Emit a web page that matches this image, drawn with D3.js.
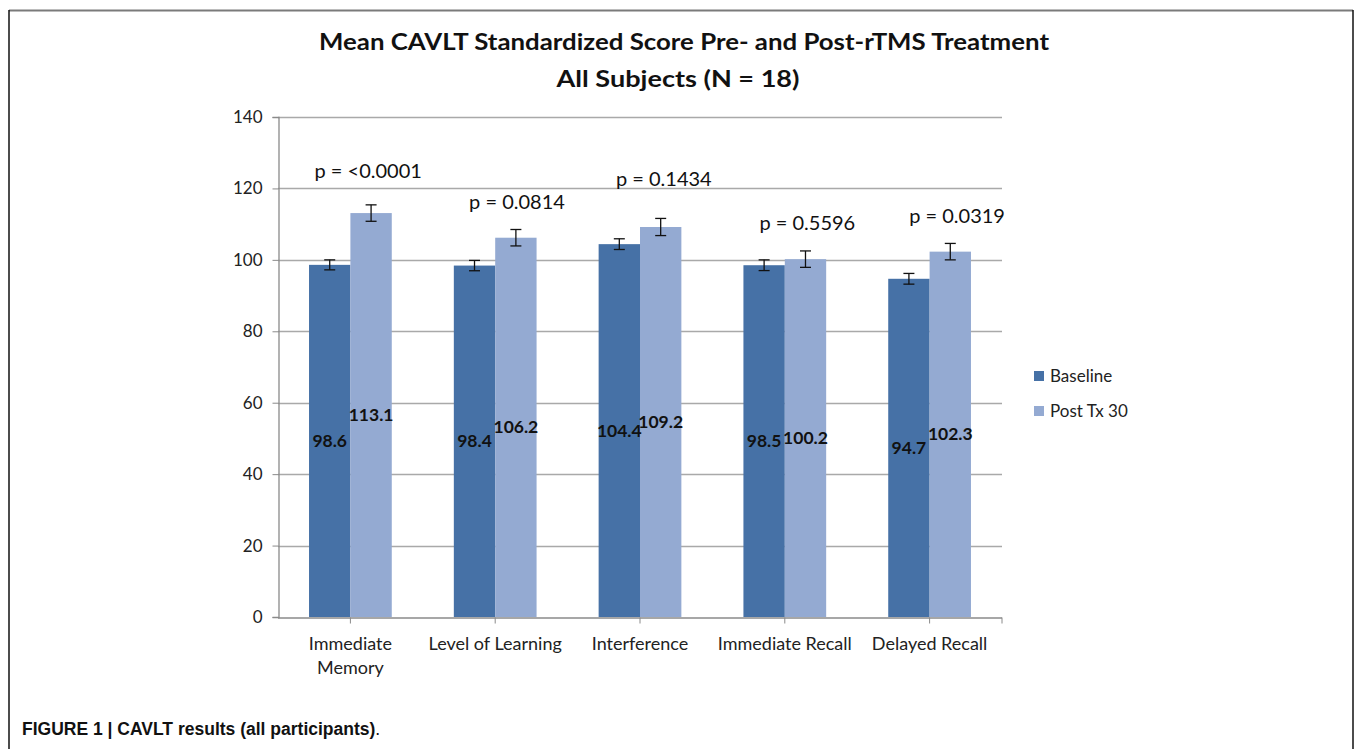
<!DOCTYPE html>
<html>
<head>
<meta charset="utf-8">
<script src="https://cdn.jsdelivr.net/npm/d3@7"></script>
<style>
  html, body { margin: 0; padding: 0; background: #fff; }
  svg { display: block; }
</style>
</head>
<body>
<svg id="chart" width="1355" height="749"></svg>
<script>
// ---- data ----
const categories = ["Immediate Memory", "Level of Learning", "Interference", "Immediate Recall", "Delayed Recall"];
const categoryLabels = [["Immediate", "Memory"], ["Level of Learning"], ["Interference"], ["Immediate Recall"], ["Delayed Recall"]];
const seriesNames = ["Baseline", "Post Tx 30"];
const baseline = [98.6, 98.4, 104.4, 98.5, 94.7];
const postTx30 = [113.1, 106.2, 109.2, 100.2, 102.3];
const baselineErr = [1.4, 1.45, 1.5, 1.5, 1.5];
const postTx30Err = [2.3, 2.3, 2.4, 2.3, 2.3];
const pValueLabels = ["p = <0.0001", "p = 0.0814", "p = 0.1434", "p = 0.5596", "p = 0.0319"];
const pValueLevel = [123.0, 114.2, 120.8, 108.3, 110.4];
const yTicks = [0, 20, 40, 60, 80, 100, 120, 140];
const titleLines = ["Mean CAVLT Standardized Score Pre- and Post-rTMS Treatment", "All Subjects (N = 18)"];
const captionBold = "FIGURE 1 | CAVLT results (all participants)";
const captionTail = ".";

// ---- styles ----
const colors = ["#4671a6", "#94aad2"];
const font = "Lato, 'Open Sans', sans-serif";

const svg = d3.select("#chart");

// frame
svg.append("line").attr("x1", 9).attr("x2", 1353).attr("y1", 10.5).attr("y2", 10.5)
  .attr("stroke", "#7a7a7a").attr("stroke-width", 2);
svg.append("line").attr("x1", 9).attr("x2", 9).attr("y1", 10).attr("y2", 749)
  .attr("stroke", "#111").attr("stroke-width", 1.5);
svg.append("line").attr("x1", 1353).attr("x2", 1353).attr("y1", 10).attr("y2", 749)
  .attr("stroke", "#111").attr("stroke-width", 1.5);

// scales
const y = d3.scaleLinear().domain([0, 140]).range([617, 117]);
const x = d3.scaleBand().domain(categories).range([278, 1002]).padding(0);
const xs = d3.scaleBand().domain(seriesNames).range([0, x.bandwidth()])
  .paddingInner(0).paddingOuter(0.75);

// gridlines
svg.append("g").selectAll("line").data(yTicks.filter(d => d > 0)).join("line")
  .attr("x1", 278).attr("x2", 1002)
  .attr("y1", d => Math.round(y(d)) + 0.5).attr("y2", d => Math.round(y(d)) + 0.5)
  .attr("stroke", "#a9a9a9").attr("stroke-width", 1.3);

// y axis
const yAxis = d3.axisLeft(y).tickValues(yTicks).tickSize(6).tickPadding(10);
const gy = svg.append("g").attr("transform", "translate(278.5,0)").call(yAxis);
gy.select(".domain").attr("stroke", "#8a8a8a").attr("stroke-width", 1.3);
gy.selectAll(".tick line").attr("stroke", "#8a8a8a");
gy.selectAll(".tick text").attr("font-family", font).attr("font-size", 17).attr("fill", "#222");

// bars
const series = [
  { name: seriesNames[0], values: baseline, errs: baselineErr, color: colors[0] },
  { name: seriesNames[1], values: postTx30, errs: postTx30Err, color: colors[1] }
];
const barData = [];
series.forEach(s => categories.forEach((c, i) => barData.push({ cat: c, name: s.name, v: s.values[i], e: s.errs[i], color: s.color })));

const gBars = svg.append("g");
gBars.selectAll("rect").data(barData).join("rect")
  .attr("x", d => x(d.cat) + xs(d.name))
  .attr("width", xs.bandwidth())
  .attr("y", d => y(d.v))
  .attr("height", d => y(0) - y(d.v))
  .attr("fill", d => d.color);

// x axis
const xAxis = d3.axisBottom(x).tickSize(6).tickFormat("");
const gx = svg.append("g").attr("transform", "translate(0,617.5)").call(xAxis);
gx.select(".domain").attr("stroke", "#8a8a8a").attr("stroke-width", 1.3).attr("d", "M278,0.5H1002");
gx.selectAll(".tick line").attr("stroke", "#8a8a8a");
gx.append("line").attr("x1", 1002).attr("x2", 1002).attr("y1", 0).attr("y2", 6).attr("stroke", "#8a8a8a");

// category labels
const gLab = svg.append("g");
categories.forEach((c, i) => {
  const t = gLab.append("text")
    .attr("x", x(c) + x.bandwidth() / 2)
    .attr("y", 650)
    .attr("text-anchor", "middle")
    .attr("font-family", font).attr("font-size", 18).attr("fill", "#222");
  categoryLabels[i].forEach((line, j) => {
    t.append("tspan").attr("x", x(c) + x.bandwidth() / 2).attr("dy", j === 0 ? 0 : 24).text(line);
  });
});

// error bars
const gErr = svg.append("g").attr("stroke", "#111").attr("stroke-width", 1.3);
barData.forEach(d => {
  const cx = x(d.cat) + xs(d.name) + xs.bandwidth() / 2;
  const y1 = y(d.v + d.e), y2 = y(d.v - d.e);
  gErr.append("line").attr("x1", cx).attr("x2", cx).attr("y1", y1).attr("y2", y2);
  gErr.append("line").attr("x1", cx - 5.5).attr("x2", cx + 5.5).attr("y1", y1).attr("y2", y1);
  gErr.append("line").attr("x1", cx - 5.5).attr("x2", cx + 5.5).attr("y1", y2).attr("y2", y2);
});

// value labels
svg.append("g").selectAll("text").data(barData).join("text")
  .attr("x", d => x(d.cat) + xs(d.name) + xs.bandwidth() / 2)
  .attr("y", d => y(d.v / 2))
  .attr("dy", "0.35em")
  .attr("text-anchor", "middle")
  .attr("font-family", font).attr("font-size", 17.5).attr("font-weight", "bold").attr("fill", "#111")
  .text(d => d.v.toFixed(1));

// p-value annotations
const pOffsets = [17.8, 21.8, 23.8, 22.5, 27.5];
svg.append("g").selectAll("text").data(categories).join("text")
  .attr("x", (c, i) => x(c) + x.bandwidth() / 2 + pOffsets[i])
  .attr("y", (c, i) => y(pValueLevel[i]))
  .attr("text-anchor", "middle")
  .attr("font-family", font).attr("font-size", 20).attr("fill", "#111")
  .text((c, i) => pValueLabels[i]);

// title
svg.append("text").attr("x", 684).attr("y", 50).attr("text-anchor", "middle")
  .attr("font-family", font).attr("font-size", 23).attr("font-weight", "bold").attr("fill", "#111")
  .attr("textLength", 730).attr("lengthAdjust", "spacingAndGlyphs")
  .text(titleLines[0]);
svg.append("text").attr("x", 678).attr("y", 87).attr("text-anchor", "middle")
  .attr("font-family", font).attr("font-size", 23).attr("font-weight", "bold").attr("fill", "#111")
  .attr("textLength", 243).attr("lengthAdjust", "spacingAndGlyphs")
  .text(titleLines[1]);

// legend
const leg = svg.append("g").selectAll("g").data(series).join("g")
  .attr("transform", (d, i) => `translate(1034,${371 + i * 35})`);
leg.append("rect").attr("width", 10).attr("height", 10).attr("fill", d => d.color);
leg.append("text").attr("x", 16).attr("y", 10.5)
  .attr("font-family", font).attr("font-size", 17).attr("fill", "#222")
  .text(d => d.name);

// caption
const cap = svg.append("text").attr("x", 22).attr("y", 735)
  .attr("font-family", "'Liberation Sans Narrow', 'Arial Narrow', 'Liberation Sans', Arial, sans-serif")
  .attr("font-size", 17.5).attr("fill", "#111");
cap.append("tspan").attr("font-weight", "bold").text(captionBold);
cap.append("tspan").text(captionTail);
</script>
</body>
</html>
